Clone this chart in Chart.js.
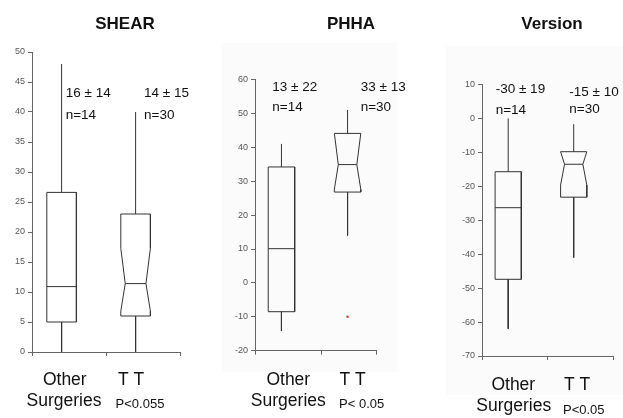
<!DOCTYPE html>
<html>
<head>
<meta charset="utf-8">
<script src="https://cdn.jsdelivr.net/npm/chart.js@4.4.1/dist/chart.umd.min.js"></script>
<style>
  html, body { margin: 0; padding: 0; background: #fff; }
  #wrap { position: relative; width: 623px; height: 418px; overflow: hidden; }
  .panel { position: absolute; top: 0; height: 418px; }
  .bg { position: absolute; background: #fbfbfb; }
</style>
</head>
<body>
<div id="wrap">
  <div class="bg" style="left:222px;top:43px;width:175px;height:329px"></div>
  <div class="bg" style="left:446px;top:46px;width:177px;height:349px"></div>
  <div class="panel" style="left:0px;width:208px"><canvas id="shear"></canvas></div>
  <div class="panel" style="left:208px;width:207px"><canvas id="phha"></canvas></div>
  <div class="panel" style="left:415px;width:208px"><canvas id="version"></canvas></div>
</div>
<script>
// groups (same in every panel)
const groups = ['Other Surgeries', 'T T'];
const groupN = [14, 30];

// SHEAR
const shearMin = [0, 0];
const shearQ1 = [5, 6];
const shearMedian = [10.9, 11.4];
const shearQ3 = [26.6, 23];
const shearMax = [48, 40];
const shearNotchLo = [null, 6.8];
const shearNotchHi = [null, 17.3];
const shearOutliers = [[], []];
const shearMean = [16, 14];
const shearSd = [14, 15];
const shearTicks = [0, 50, 5];

// PHHA
const phhaMin = [-14.2, 14];
const phhaQ1 = [-8.5, 26.8];
const phhaMedian = [10.1, 34.9];
const phhaQ3 = [34.2, 44.1];
const phhaMax = [41, 51];
const phhaNotchLo = [null, 27.6];
const phhaNotchHi = [null, 44.1];
const phhaOutliers = [[], [-10]];
const phhaMean = [13, 33];
const phhaSd = [22, 13];
const phhaTicks = [-20, 60, 10];

// Version
const versionMin = [-62, -41];
const versionQ1 = [-47.4, -23.2];
const versionMedian = [-26.3, -13.5];
const versionQ3 = [-15.7, -9.8];
const versionMax = [0, -1.7];
const versionNotchLo = [null, -19.6];
const versionNotchHi = [null, -9.8];
const versionOutliers = [[], []];
const versionMean = [-30, -15];
const versionSd = [19, 10];
const versionTicks = [-70, 10, 10];

const FONT = '"Liberation Sans", Arial, sans-serif';
const LINE = '#333';
const AXIS = '#666';

// box positions on the x axis (category index + offset), half width, notch depth
const BOX_OFFSET = 0.4;
const HALF = 0.2;
const NOTCH = 0.7;

function seg(points, color) {
  return {
    type: 'line',
    data: points.map(p => ({x: p[0], y: p[1]})),
    borderColor: color || LINE,
    borderWidth: 1,
    borderJoinStyle: 'miter',
    pointRadius: 0,
    showLine: true,
    fill: false,
    tension: 0,
    clip: false
  };
}

function boxDatasets(s) {
  let sets = [];
  for (let i = 0; i < groups.length; i++) {
    const c = i + BOX_OFFSET;
    const lo = s.notchLo[i], hi = s.notchHi[i];
    let mh = HALF;
    if (lo == null) {
      sets.push(seg([[c-HALF, s.q1[i]], [c-HALF, s.q3[i]], [c+HALF, s.q3[i]], [c+HALF, s.q1[i]], [c-HALF, s.q1[i]]]));
    } else {
      mh = HALF * NOTCH;
      sets.push(seg([
        [c-HALF, s.q1[i]], [c-HALF, lo], [c-mh, s.med[i]], [c-HALF, hi], [c-HALF, s.q3[i]],
        [c+HALF, s.q3[i]], [c+HALF, hi], [c+mh, s.med[i]], [c+HALF, lo], [c+HALF, s.q1[i]], [c-HALF, s.q1[i]]
      ]));
    }
    sets.push(seg([[c-mh, s.med[i]], [c+mh, s.med[i]]]));
    sets.push(seg([[c, s.q3[i]], [c, s.max[i]]]));
    sets.push(seg([[c, s.q1[i]], [c, s.min[i]]]));
    if (s.out[i].length) {
      sets.push({
        type: 'scatter',
        data: s.out[i].map(v => ({x: c, y: v})),
        pointRadius: 1.3,
        pointBackgroundColor: '#c05050',
        pointBorderWidth: 0,
        clip: false
      });
    }
  }
  return sets;
}

// draws title, mean ± sd notes and category labels (page pixel positions)
const panelText = {
  id: 'panelText',
  afterDraw(chart, args, opts) {
    const ctx = chart.ctx;
    ctx.save();
    opts.items.forEach(t => {
      ctx.font = t.font;
      ctx.fillStyle = '#111';
      ctx.textAlign = t.align || 'left';
      ctx.textBaseline = 'alphabetic';
      ctx.fillText(t.text, t.x - opts.left, t.y);
    });
    ctx.restore();
  }
};

function makePanel(id, p) {
  const left = p.left;
  const items = [
    {text: p.title, x: p.titleX, y: 28.5, font: 'bold 17px ' + FONT, align: 'center'}
  ];
  for (let i = 0; i < groups.length; i++) {
    items.push({text: p.mean[i] + ' \u00b1 ' + p.sd[i], x: p.noteX[i], y: p.noteY[i][0], font: '13.5px ' + FONT});
    items.push({text: 'n=' + groupN[i], x: p.noteX[i], y: p.noteY[i][1], font: '13.5px ' + FONT});
  }
  const words = groups[0].split(' ');
  items.push({text: words[0], x: p.labelX[0], y: p.labelY[0], font: '17.5px ' + FONT, align: 'center'});
  items.push({text: words[1], x: p.labelX[1], y: p.labelY[1], font: '17.5px ' + FONT, align: 'center'});
  items.push({text: groups[1], x: p.labelX[2], y: p.labelY[0], font: '17.5px ' + FONT, align: 'center'});
  items.push({text: p.pText, x: p.labelX[3], y: p.labelY[2], font: '13px ' + FONT, align: 'center'});

  return new Chart(document.getElementById(id), {
    type: 'scatter',
    data: { datasets: boxDatasets(p.stats) },
    options: {
      responsive: true,
      maintainAspectRatio: false,
      animation: false,
      events: [],
      layout: {
        autoPadding: false,
        padding: {left: 0, top: p.area.top, right: p.width - (p.area.right - left), bottom: 0}
      },
      plugins: {
        legend: {display: false},
        tooltip: {enabled: false},
        panelText: {left: left, items: items}
      },
      scales: {
        x: {
          type: 'linear',
          min: 0,
          max: p.xMax,
          afterBuildTicks: s => { s.ticks = [0, 1, p.xMax].map(v => ({value: v})); },
          afterFit: s => { s.height = 418 - p.area.bottom; },
          ticks: {display: false},
          grid: {drawOnChartArea: false, tickLength: 4, color: AXIS},
          border: {color: AXIS, width: 1}
        },
        y: {
          min: p.ticks[0],
          max: p.ticks[1],
          afterFit: s => { s.width = p.area.left - left; },
          ticks: {stepSize: p.ticks[2], color: '#555', padding: 3, font: {family: FONT, size: 9}},
          grid: {drawOnChartArea: false, tickLength: 4, color: AXIS},
          border: {color: AXIS, width: 1}
        }
      }
    },
    plugins: [panelText]
  });
}

makePanel('shear', {
  left: 0, width: 208, xMax: 2,
  area: {left: 32, right: 180, top: 52, bottom: 352},
  stats: {min: shearMin, q1: shearQ1, med: shearMedian, q3: shearQ3, max: shearMax, notchLo: shearNotchLo, notchHi: shearNotchHi, out: shearOutliers},
  ticks: shearTicks,
  title: 'SHEAR', titleX: 125,
  mean: shearMean, sd: shearSd,
  noteX: [65.7, 144], noteY: [[97, 118.5], [97, 118.5]],
  labelX: [64.8, 64, 131, 140], labelY: [385, 406, 408.3],
  pText: 'P<0.055'
});

makePanel('phha', {
  left: 208, width: 207, xMax: 1.83,
  area: {left: 255, right: 376, top: 79.5, bottom: 350.7},
  stats: {min: phhaMin, q1: phhaQ1, med: phhaMedian, q3: phhaQ3, max: phhaMax, notchLo: phhaNotchLo, notchHi: phhaNotchHi, out: phhaOutliers},
  ticks: phhaTicks,
  title: 'PHHA', titleX: 351,
  mean: phhaMean, sd: phhaSd,
  noteX: [272.3, 360.7], noteY: [[91, 111], [91, 111]],
  labelX: [288.3, 288.3, 352.5, 361.7], labelY: [385, 405.5, 408.3],
  pText: 'P< 0.05'
});

makePanel('version', {
  left: 415, width: 208, xMax: 2,
  area: {left: 482, right: 613, top: 84.5, bottom: 356},
  stats: {min: versionMin, q1: versionQ1, med: versionMedian, q3: versionQ3, max: versionMax, notchLo: versionNotchLo, notchHi: versionNotchHi, out: versionOutliers},
  ticks: versionTicks,
  title: 'Version', titleX: 552,
  mean: versionMean, sd: versionSd,
  noteX: [495.7, 569.3], noteY: [[93.3, 114], [96, 113.3]],
  labelX: [513.3, 513.7, 577, 583.8], labelY: [390, 411, 414],
  pText: 'P<0.05'
});
</script>
</body>
</html>
